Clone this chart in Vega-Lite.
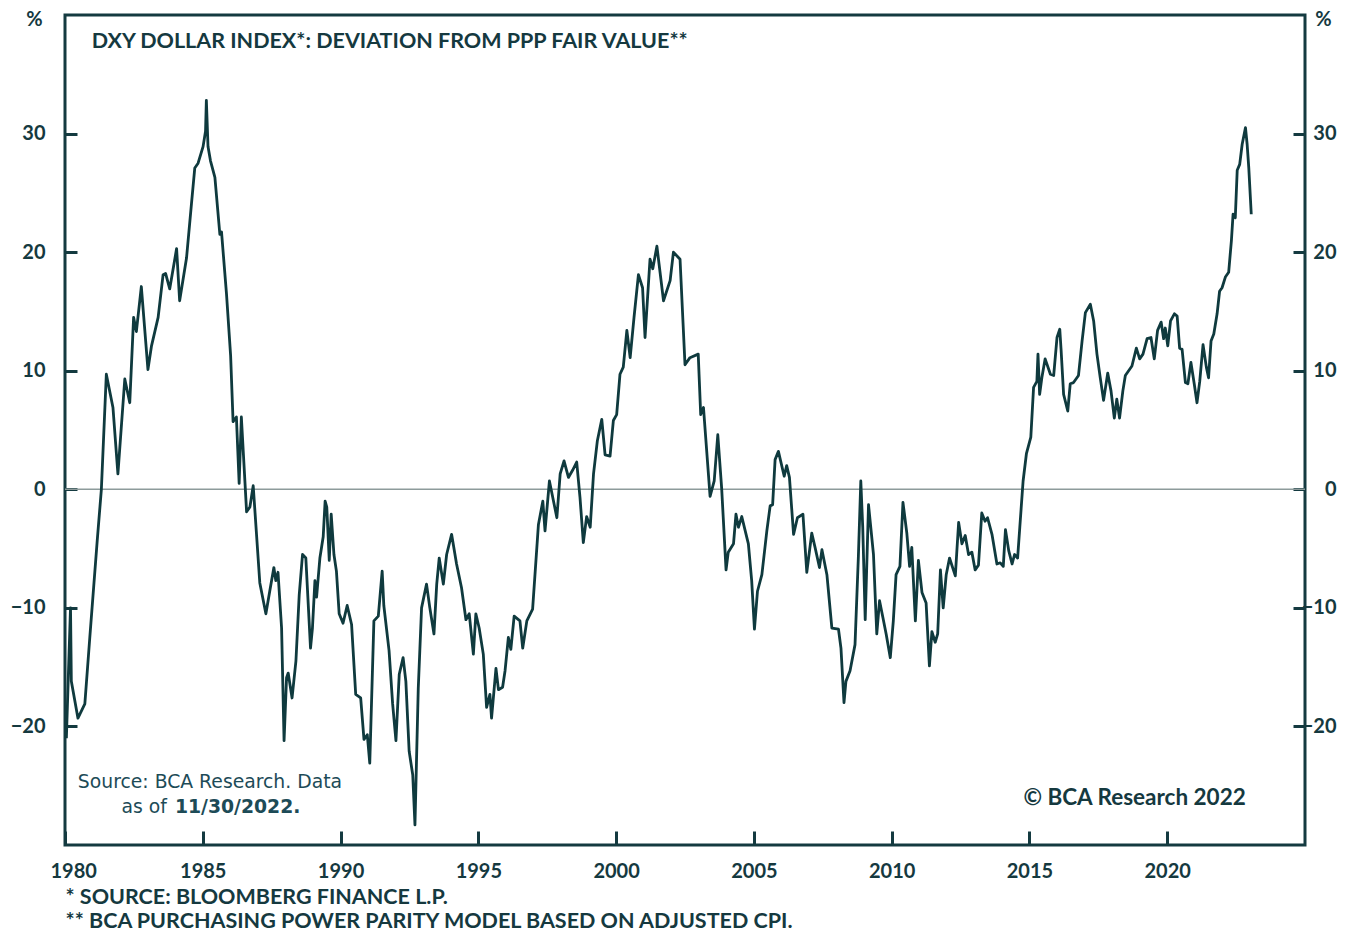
{
  "$schema": "https://vega.github.io/schema/vega-lite/v6.json",
  "width": 1240,
  "height": 830,
  "autosize": "none",
  "padding": {"left": 65, "top": 15, "right": 41, "bottom": 86},
  "background": "white",
  "config": {
    "view": {"stroke": "#143a40", "strokeWidth": 3},
    "axis": {
      "labelFont": "Lato", "labelFontWeight": "bold", "labelFontSize": 20, "labelColor": "#15393f",
      "tickColor": "#143a40", "tickWidth": 3, "domain": false, "grid": false,
      "titleFont": "Lato", "titleFontWeight": "bold", "titleColor": "#15393f"
    }
  },
  "resolve": {"scale": {"y": "shared", "x": "shared"}, "axis": {"y": "independent"}},
  "layer": [
    {
      "data": {"values": [{}]},
      "mark": {"type": "rule", "color": "#8d9b9b", "strokeWidth": 1.5},
      "encoding": {
        "y": {"datum": 0, "type": "quantitative",
          "scale": {"domain": [-30, 40], "nice": false, "zero": false},
          "axis": {"orient": "right", "values": [-20, -10, 0, 10, 20, 30], "tickSize": -12, "labelAlign": "right", "labelPadding": 43,
            "title": "%", "titleAngle": 0, "titleX": 18, "titleY": 4, "titleBaseline": "middle", "titleAlign": "center", "titleFontSize": 20}
        }
      }
    },
    {
      "data": {"values": [
        {"t":1980.05,"v":-21.0},{"t":1980.20,"v":-10.0},{"t":1980.23,"v":-16.2},{"t":1980.47,"v":-19.3},{"t":1980.72,"v":-18.1},{"t":1980.90,"v":-12.5},{"t":1981.17,"v":-4.3},{"t":1981.32,"v":0.0},{"t":1981.50,"v":9.7},{"t":1981.74,"v":6.9},{"t":1981.92,"v":1.3},
        {"t":1982.17,"v":9.3},{"t":1982.35,"v":7.3},{"t":1982.49,"v":14.5},{"t":1982.59,"v":13.3},{"t":1982.77,"v":17.1},{"t":1983.01,"v":10.1},{"t":1983.14,"v":12.1},{"t":1983.38,"v":14.5},{"t":1983.56,"v":18.1},{"t":1983.65,"v":18.2},{"t":1983.80,"v":16.9},
        {"t":1984.05,"v":20.3},{"t":1984.16,"v":15.9},{"t":1984.41,"v":19.5},{"t":1984.59,"v":24.1},{"t":1984.71,"v":27.1},{"t":1984.83,"v":27.5},{"t":1985.01,"v":28.9},{"t":1985.10,"v":30.2},{"t":1985.13,"v":32.8},{"t":1985.19,"v":28.9},{"t":1985.28,"v":27.7},
        {"t":1985.44,"v":26.3},{"t":1985.62,"v":21.5},{"t":1985.68,"v":21.7},{"t":1985.86,"v":16.5},{"t":1986.01,"v":11.3},{"t":1986.10,"v":5.7},{"t":1986.22,"v":6.1},{"t":1986.32,"v":0.5},{"t":1986.40,"v":6.1},{"t":1986.59,"v":-1.9},{"t":1986.71,"v":-1.5},{"t":1986.83,"v":0.3},
        {"t":1987.07,"v":-7.9},{"t":1987.29,"v":-10.5},{"t":1987.43,"v":-8.6},{"t":1987.58,"v":-6.6},{"t":1987.65,"v":-7.7},{"t":1987.73,"v":-7.0},{"t":1987.86,"v":-11.7},{"t":1987.95,"v":-21.2},{"t":1988.04,"v":-15.9},{"t":1988.10,"v":-15.5},{"t":1988.24,"v":-17.6},
        {"t":1988.38,"v":-14.5},{"t":1988.50,"v":-8.9},{"t":1988.62,"v":-5.5},{"t":1988.74,"v":-5.8},{"t":1988.91,"v":-13.4},{"t":1988.98,"v":-11.7},{"t":1989.07,"v":-7.7},{"t":1989.13,"v":-9.1},{"t":1989.25,"v":-5.8},{"t":1989.37,"v":-4.0},{"t":1989.44,"v":-1.0},
        {"t":1989.50,"v":-1.5},{"t":1989.59,"v":-6.0},{"t":1989.66,"v":-2.1},{"t":1989.76,"v":-5.5},{"t":1989.85,"v":-6.9},{"t":1989.95,"v":-10.5},{"t":1990.09,"v":-11.3},{"t":1990.24,"v":-9.8},{"t":1990.40,"v":-11.4},{"t":1990.55,"v":-17.3},{"t":1990.73,"v":-17.6},
        {"t":1990.85,"v":-21.1},{"t":1990.97,"v":-20.7},{"t":1991.06,"v":-23.1},{"t":1991.21,"v":-11.1},{"t":1991.37,"v":-10.7},{"t":1991.51,"v":-6.9},{"t":1991.57,"v":-9.8},{"t":1991.76,"v":-13.6},{"t":1991.89,"v":-18.1},{"t":1992.01,"v":-21.2},{"t":1992.13,"v":-15.6},
        {"t":1992.27,"v":-14.2},{"t":1992.37,"v":-16.2},{"t":1992.49,"v":-22.1},{"t":1992.62,"v":-24.1},{"t":1992.70,"v":-28.3},{"t":1992.82,"v":-16.8},{"t":1992.94,"v":-10.0},{"t":1993.12,"v":-8.0},{"t":1993.24,"v":-10.0},{"t":1993.39,"v":-12.2},{"t":1993.49,"v":-8.0},
        {"t":1993.58,"v":-5.8},{"t":1993.73,"v":-8.0},{"t":1993.85,"v":-5.5},{"t":1994.03,"v":-3.8},{"t":1994.21,"v":-6.3},{"t":1994.39,"v":-8.3},{"t":1994.55,"v":-11.0},{"t":1994.67,"v":-10.5},{"t":1994.82,"v":-13.9},{"t":1994.91,"v":-10.5},{"t":1995.03,"v":-11.7},
        {"t":1995.18,"v":-13.9},{"t":1995.30,"v":-18.4},{"t":1995.42,"v":-17.3},{"t":1995.48,"v":-19.3},{"t":1995.64,"v":-15.1},{"t":1995.73,"v":-16.9},{"t":1995.88,"v":-16.7},{"t":1995.97,"v":-15.3},{"t":1996.09,"v":-12.5},{"t":1996.18,"v":-13.5},{"t":1996.30,"v":-10.7},
        {"t":1996.51,"v":-11.1},{"t":1996.61,"v":-13.4},{"t":1996.76,"v":-11.1},{"t":1996.97,"v":-10.1},{"t":1997.18,"v":-3.0},{"t":1997.34,"v":-1.0},{"t":1997.42,"v":-3.5},{"t":1997.58,"v":0.7},{"t":1997.85,"v":-2.4},{"t":1997.97,"v":1.3},{"t":1998.11,"v":2.4},
        {"t":1998.27,"v":1.0},{"t":1998.42,"v":1.6},{"t":1998.57,"v":2.3},{"t":1998.69,"v":-0.7},{"t":1998.81,"v":-4.5},{"t":1998.93,"v":-2.3},{"t":1999.06,"v":-3.2},{"t":1999.18,"v":1.3},{"t":1999.32,"v":4.1},{"t":1999.48,"v":5.9},{"t":1999.60,"v":2.9},
        {"t":1999.78,"v":2.8},{"t":1999.90,"v":5.8},{"t":2000.02,"v":6.3},{"t":2000.14,"v":9.7},{"t":2000.26,"v":10.3},{"t":2000.39,"v":13.4},{"t":2000.51,"v":11.1},{"t":2000.65,"v":14.5},{"t":2000.81,"v":18.1},{"t":2000.96,"v":17.0},{"t":2001.05,"v":12.8},
        {"t":2001.23,"v":19.4},{"t":2001.33,"v":18.6},{"t":2001.48,"v":20.5},{"t":2001.72,"v":15.9},{"t":2001.96,"v":17.6},{"t":2002.08,"v":20.0},{"t":2002.32,"v":19.4},{"t":2002.50,"v":10.5},{"t":2002.68,"v":11.1},{"t":2002.98,"v":11.4},{"t":2003.07,"v":6.3},
        {"t":2003.17,"v":6.9},{"t":2003.41,"v":-0.6},{"t":2003.56,"v":0.7},{"t":2003.69,"v":4.6},{"t":2003.83,"v":0.1},{"t":2003.99,"v":-6.8},{"t":2004.07,"v":-5.3},{"t":2004.26,"v":-4.6},{"t":2004.35,"v":-2.1},{"t":2004.44,"v":-3.2},{"t":2004.56,"v":-2.3},
        {"t":2004.80,"v":-4.6},{"t":2004.92,"v":-7.7},{"t":2005.02,"v":-11.8},{"t":2005.13,"v":-8.6},{"t":2005.29,"v":-7.2},{"t":2005.47,"v":-3.5},{"t":2005.59,"v":-1.4},{"t":2005.68,"v":-1.3},{"t":2005.77,"v":2.5},{"t":2005.89,"v":3.2},{"t":2006.10,"v":1.1},
        {"t":2006.19,"v":2.0},{"t":2006.29,"v":1.0},{"t":2006.44,"v":-3.8},{"t":2006.58,"v":-2.4},{"t":2006.78,"v":-2.1},{"t":2006.92,"v":-7.0},{"t":2007.10,"v":-3.7},{"t":2007.22,"v":-4.9},{"t":2007.38,"v":-6.6},{"t":2007.47,"v":-5.1},{"t":2007.65,"v":-7.2},
        {"t":2007.83,"v":-11.7},{"t":2008.07,"v":-11.8},{"t":2008.16,"v":-13.4},{"t":2008.27,"v":-18.0},{"t":2008.34,"v":-16.2},{"t":2008.49,"v":-15.3},{"t":2008.67,"v":-13.1},{"t":2008.79,"v":-5.8},{"t":2008.88,"v":0.7},{"t":2008.95,"v":-3.2},{"t":2009.04,"v":-11.0},
        {"t":2009.16,"v":-1.3},{"t":2009.34,"v":-5.5},{"t":2009.46,"v":-12.2},{"t":2009.56,"v":-9.4},{"t":2009.68,"v":-10.8},{"t":2009.80,"v":-12.2},{"t":2009.95,"v":-14.2},{"t":2010.06,"v":-11.1},{"t":2010.16,"v":-7.2},{"t":2010.30,"v":-6.5},{"t":2010.41,"v":-1.1},
        {"t":2010.55,"v":-3.7},{"t":2010.65,"v":-6.5},{"t":2010.73,"v":-4.9},{"t":2010.86,"v":-11.1},{"t":2010.97,"v":-6.0},{"t":2011.10,"v":-8.7},{"t":2011.25,"v":-9.6},{"t":2011.37,"v":-14.9},{"t":2011.46,"v":-12.0},{"t":2011.58,"v":-12.9},{"t":2011.67,"v":-12.2},
        {"t":2011.77,"v":-6.8},{"t":2011.87,"v":-10.0},{"t":2011.98,"v":-7.2},{"t":2012.10,"v":-5.8},{"t":2012.31,"v":-7.3},{"t":2012.43,"v":-2.8},{"t":2012.55,"v":-4.6},{"t":2012.67,"v":-3.9},{"t":2012.79,"v":-5.5},{"t":2012.91,"v":-5.3},{"t":2013.03,"v":-6.8},
        {"t":2013.15,"v":-6.4},{"t":2013.27,"v":-2.0},{"t":2013.39,"v":-2.7},{"t":2013.48,"v":-2.4},{"t":2013.64,"v":-3.8},{"t":2013.82,"v":-6.3},{"t":2013.94,"v":-6.2},{"t":2014.05,"v":-6.5},{"t":2014.13,"v":-3.4},{"t":2014.25,"v":-5.2},{"t":2014.37,"v":-6.3},
        {"t":2014.46,"v":-5.5},{"t":2014.57,"v":-5.8},{"t":2014.65,"v":-3.2},{"t":2014.77,"v":0.7},{"t":2014.89,"v":3.0},{"t":2015.05,"v":4.4},{"t":2015.15,"v":8.6},{"t":2015.27,"v":9.1},{"t":2015.31,"v":11.4},{"t":2015.37,"v":8.0},{"t":2015.45,"v":9.4},
        {"t":2015.57,"v":11.0},{"t":2015.76,"v":9.7},{"t":2015.88,"v":9.6},{"t":2016.00,"v":12.8},{"t":2016.10,"v":13.5},{"t":2016.15,"v":11.7},{"t":2016.24,"v":8.0},{"t":2016.39,"v":6.6},{"t":2016.48,"v":8.9},{"t":2016.60,"v":9.0},{"t":2016.78,"v":9.6},
        {"t":2016.91,"v":12.5},{"t":2017.03,"v":14.9},{"t":2017.21,"v":15.6},{"t":2017.33,"v":14.2},{"t":2017.45,"v":11.4},{"t":2017.57,"v":9.4},{"t":2017.69,"v":7.5},{"t":2017.84,"v":9.8},{"t":2017.96,"v":8.3},{"t":2018.08,"v":6.0},{"t":2018.17,"v":7.6},
        {"t":2018.27,"v":6.0},{"t":2018.39,"v":8.3},{"t":2018.48,"v":9.6},{"t":2018.72,"v":10.4},{"t":2018.88,"v":11.9},{"t":2019.00,"v":11.0},{"t":2019.12,"v":11.4},{"t":2019.27,"v":12.7},{"t":2019.41,"v":12.8},{"t":2019.53,"v":11.0},{"t":2019.65,"v":13.4},
        {"t":2019.78,"v":14.1},{"t":2019.87,"v":12.7},{"t":2019.93,"v":13.6},{"t":2020.02,"v":12.1},{"t":2020.12,"v":14.2},{"t":2020.26,"v":14.8},{"t":2020.36,"v":14.6},{"t":2020.45,"v":11.9},{"t":2020.54,"v":11.8},{"t":2020.66,"v":9.0},{"t":2020.75,"v":8.9},
        {"t":2020.86,"v":10.7},{"t":2020.98,"v":8.9},{"t":2021.08,"v":7.3},{"t":2021.18,"v":9.1},{"t":2021.30,"v":12.2},{"t":2021.42,"v":10.3},{"t":2021.50,"v":9.4},{"t":2021.59,"v":12.5},{"t":2021.69,"v":13.1},{"t":2021.81,"v":14.8},{"t":2021.90,"v":16.7},
        {"t":2021.99,"v":17.0},{"t":2022.11,"v":17.9},{"t":2022.23,"v":18.3},{"t":2022.33,"v":21.0},{"t":2022.39,"v":23.2},{"t":2022.47,"v":22.9},{"t":2022.54,"v":26.9},{"t":2022.63,"v":27.4},{"t":2022.72,"v":29.1},{"t":2022.84,"v":30.5},{"t":2022.90,"v":29.1},
        {"t":2022.96,"v":27.1},{"t":2023.05,"v":23.2}
      ]},
      "mark": {"type": "line", "color": "#0f3a3e", "strokeWidth": 2.8, "strokeJoin": "round"},
      "encoding": {
        "x": {"field": "t", "type": "quantitative",
          "scale": {"domain": [1980, 2025], "nice": false, "zero": false},
          "axis": {"orient": "bottom", "values": [1980, 1985, 1990, 1995, 2000, 2005, 2010, 2015, 2020], "format": "d", "tickSize": -14, "labelPadding": 30,
            "labelFlush": true, "labelFlushOffset": 15,
            "title": ["*  SOURCE: BLOOMBERG FINANCE L.P.", "** BCA PURCHASING POWER PARITY MODEL BASED ON ADJUSTED CPI."],
            "titleAnchor": "start", "titleAlign": "left", "titleX": 0, "titleY": 58, "titleBaseline": "alphabetic", "titleFontSize": 21.5, "titleLineHeight": 24}
        },
        "y": {"field": "v", "type": "quantitative",
          "axis": {"orient": "left", "values": [-20, -10, 0, 10, 20, 30], "tickSize": -12, "labelAlign": "right", "labelPadding": 32,
            "title": "%", "titleAngle": 0, "titleX": -31, "titleY": 4, "titleBaseline": "middle", "titleAlign": "center", "titleFontSize": 20}
        }
      }
    },
    {
      "data": {"values": [{}]},
      "mark": {"type": "text", "font": "Lato", "fontWeight": "bold", "fontSize": 21.5, "color": "#15393f", "align": "left", "baseline": "middle"},
      "encoding": {
        "x": {"datum": 1980.97, "type": "quantitative"},
        "y": {"datum": 37.7, "type": "quantitative", "axis": null},
        "text": {"value": "DXY DOLLAR INDEX*: DEVIATION FROM PPP FAIR VALUE**"}
      }
    },
    {
      "data": {"values": [{}]},
      "mark": {"type": "text", "font": "DejaVu Sans", "fontSize": 18.8, "color": "#1d4b57", "align": "center", "baseline": "middle"},
      "encoding": {
        "x": {"datum": 1985.26, "type": "quantitative"},
        "y": {"datum": -24.7, "type": "quantitative", "axis": null},
        "text": {"value": "Source: BCA Research. Data"}
      }
    },
    {
      "data": {"values": [{}]},
      "mark": {"type": "text", "font": "DejaVu Sans", "fontSize": 18.8, "color": "#1d4b57", "align": "right", "baseline": "middle"},
      "encoding": {
        "x": {"datum": 1983.70, "type": "quantitative"},
        "y": {"datum": -26.8, "type": "quantitative", "axis": null},
        "text": {"value": "as of"}
      }
    },
    {
      "data": {"values": [{}]},
      "mark": {"type": "text", "font": "DejaVu Sans", "fontWeight": "bold", "fontSize": 18.8, "color": "#1d4b57", "align": "left", "baseline": "middle"},
      "encoding": {
        "x": {"datum": 1983.99, "type": "quantitative"},
        "y": {"datum": -26.8, "type": "quantitative", "axis": null},
        "text": {"value": "11/30/2022."}
      }
    },
    {
      "data": {"values": [{}]},
      "mark": {"type": "text", "font": "Lato", "fontWeight": "bold", "fontSize": 22.5, "color": "#15393f", "align": "right", "baseline": "middle"},
      "encoding": {
        "x": {"datum": 2022.85, "type": "quantitative"},
        "y": {"datum": -26.0, "type": "quantitative", "axis": null},
        "text": {"value": "© BCA Research 2022"}
      }
    }
  ]
}
